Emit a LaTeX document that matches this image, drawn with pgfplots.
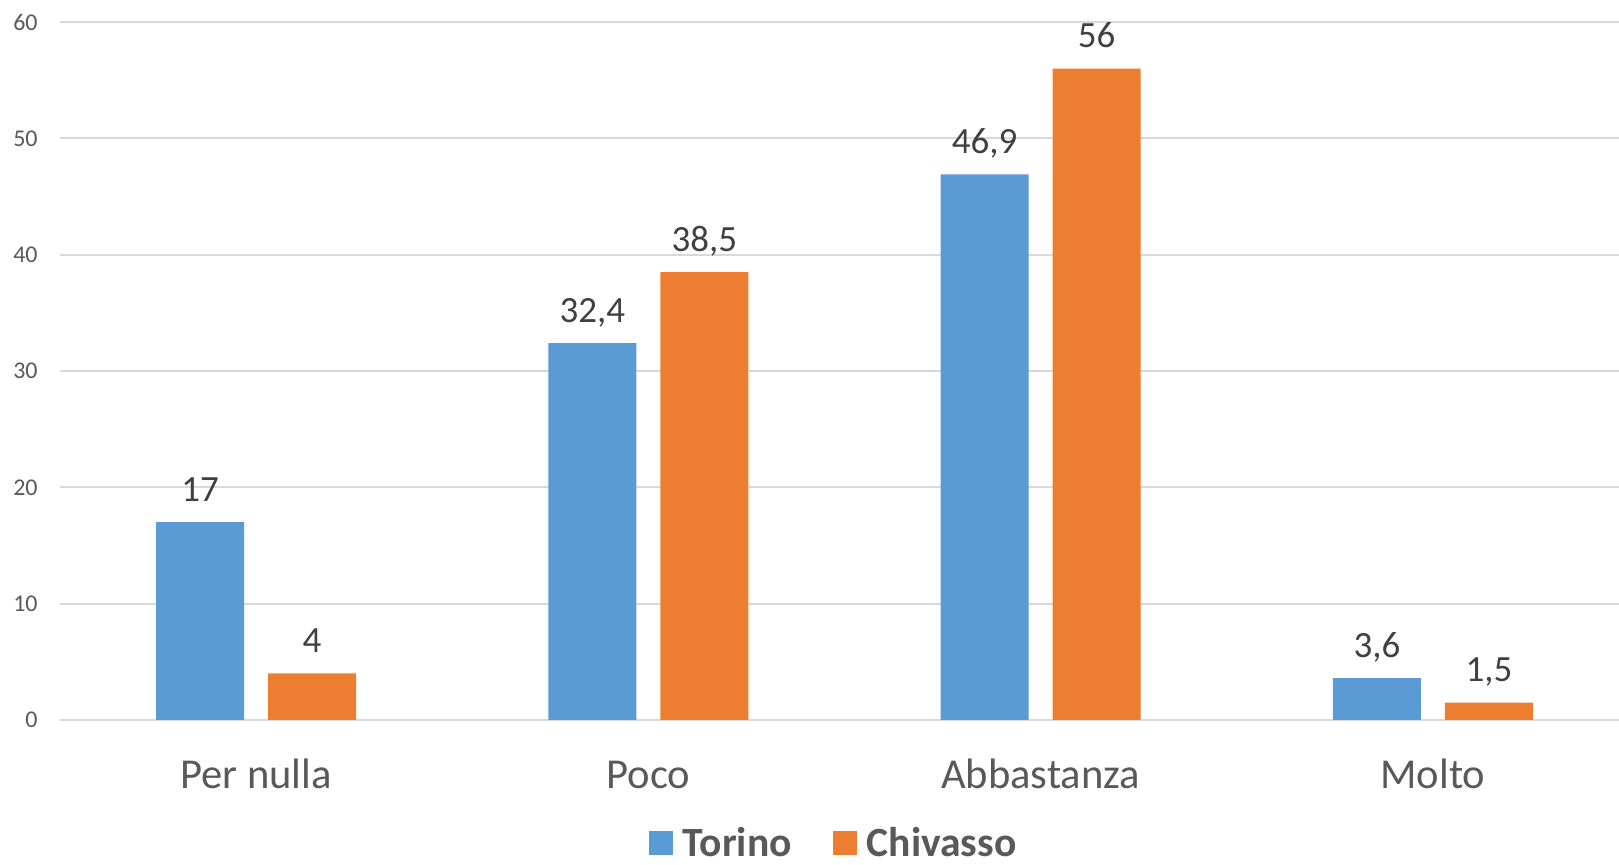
\documentclass[border=0pt]{standalone}
\usepackage{fontspec}
\setmainfont{Carlito}
\usepackage{pgfplots}
\pgfplotsset{compat=1.18}
\definecolor{tor}{HTML}{5B9BD5}
\definecolor{chi}{HTML}{ED7D31}
\definecolor{gridc}{HTML}{D9D9D9}
\definecolor{tickc}{HTML}{595959}
\definecolor{labc}{HTML}{404040}
\begin{document}
\begin{tikzpicture}
\useasboundingbox (-30pt,-72.5pt) rectangle (779.5pt,360pt);
\begin{axis}[
  at={(0,0)}, anchor=south west,
  scale only axis, width=784.5pt, height=349pt,
  xmin=-0.5, xmax=3.5, ymin=0, ymax=60,
  clip=false,
  axis line style={draw=none},
  tick style={draw=none},
  ymajorgrids, grid style={gridc, line width=1pt},
  ytick={0,10,...,60},
  xtick={0,1,2,3},
  xticklabels={Per nulla,Poco,Abbastanza,Molto},
  /pgf/number format/use comma,
  /pgf/number format/1000 sep={},
  /pgf/number format/assume math mode=true,
  yticklabel style={font=\fontsize{12}{12}\selectfont, text=tickc, anchor=east, inner sep=0pt, xshift=-11pt},
  xticklabel style={font=\fontsize{21.3}{21.3}\selectfont, text=tickc, anchor=base, yshift=-30pt},
  ybar=12pt, bar width=44pt,
  nodes near coords,
  every node near coord/.append style={font=\fontsize{18.5}{18.5}\selectfont, text=labc, anchor=base, inner sep=0pt, yshift=10.5pt},
  legend columns=2,
  legend style={at={(0.5,0)}, anchor=south, xshift=-6pt, yshift=-70pt, draw=none, fill=none, inner sep=0pt,
    font=\fontsize{20.8}{20.8}\selectfont\bfseries, text=tickc,
    /tikz/every odd column/.append style={column sep=5pt},
    /tikz/every even column/.append style={column sep=20.5pt},
    nodes={inner sep=0pt}},
  legend image code/.code={\fill[#1] (0pt,-6pt) rectangle (12pt,6pt);},
]
\addplot[fill=tor, draw=none] coordinates {(0,17) (1,32.4) (2,46.9) (3,3.6)};
\addplot[fill=chi, draw=none] coordinates {(0,4) (1,38.5) (2,56) (3,1.5)};
\legend{Torino, Chivasso}
\end{axis}
\end{tikzpicture}
\end{document}
